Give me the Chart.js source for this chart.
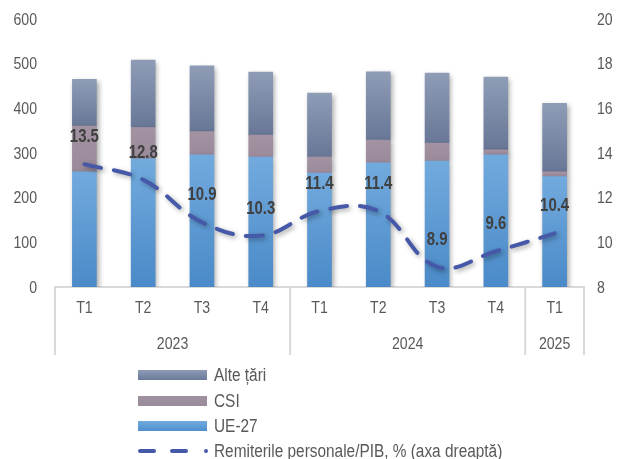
<!DOCTYPE html>
<html>
<head>
<meta charset="utf-8">
<script src="https://cdn.jsdelivr.net/npm/chart.js@4"></script>
<style>
  html, body { margin: 0; padding: 0; background: #fff; }
  #wrap { width: 622px; height: 459px; position: relative; }
</style>
</head>
<body>
<div id="wrap"><canvas id="remiteri-chart" width="622" height="459"></canvas></div>
<script>
// trimestre si ani
var quarters = ['T1', 'T2', 'T3', 'T4', 'T1', 'T2', 'T3', 'T4', 'T1'];
var years = ['2023', '2024', '2025'];
var yearSpans = [4, 4, 1];

// remiteri pe regiuni (stanga), ponderea in PIB (dreapta)
var ue27 = [258, 287, 296, 291, 255, 278, 282, 296, 247];
var csi = [102, 70, 52, 49, 36, 51, 40, 11, 11];
var alteTari = [105, 151, 147, 141, 143, 153, 157, 163, 153];
var remiteriPib = [13.5, 12.8, 10.9, 10.3, 11.4, 11.4, 8.9, 9.6, 10.4];

var leftTicks = [0, 100, 200, 300, 400, 500, 600];
var rightTicks = [8, 10, 12, 14, 16, 18, 20];

var FONT = '"Liberation Sans", Arial, sans-serif';
var TEXT_GREY = '#595959';
var LINE_BLUE = '#4659a8';
var NARROW = 0.83; // Arial comprimat pe orizontala, ca Arial Narrow

// text ingust: scalare orizontala in jurul punctului de ancorare
function narrowText(ctx, text, x, y, align, k) {
  ctx.save();
  ctx.translate(x, y);
  ctx.scale(k || NARROW, 1);
  ctx.textAlign = align || 'center';
  ctx.fillText(text, 0, 0);
  ctx.restore();
}

// gradient vertical pe fiecare segment al barei
function segmentGradient(stackBelow, top, bottom) {
  return function (context) {
    var chart = context.chart;
    var y = chart.scales.y;
    if (!y || context.dataIndex === undefined) return bottom;
    var i = context.dataIndex;
    var base = 0;
    stackBelow.forEach(function (arr) { base += arr[i]; });
    var own = context.dataset.data[i];
    var y0 = y.getPixelForValue(base + own);
    var y1 = y.getPixelForValue(base);
    if (!isFinite(y0) || !isFinite(y1) || y0 === y1) return bottom;
    var g = chart.ctx.createLinearGradient(0, y0, 0, y1);
    g.addColorStop(0, top);
    g.addColorStop(1, bottom);
    return g;
  };
}

// umbra sub bare si sub linie
var shadowPlugin = {
  id: 'shadow',
  beforeDatasetDraw: function (chart) {
    var ctx = chart.ctx;
    ctx.save();
    ctx.shadowColor = 'rgba(0,0,0,0.35)';
    ctx.shadowBlur = 5;
    ctx.shadowOffsetX = 2;
    ctx.shadowOffsetY = 2;
  },
  afterDatasetDraw: function (chart) {
    chart.ctx.restore();
  }
};

// etichetele axelor, desenate ingust
var axisLabelsPlugin = {
  id: 'axisLabels',
  afterDraw: function (chart) {
    var ctx = chart.ctx;
    var area = chart.chartArea;
    var sx = chart.scales.x, sy = chart.scales.y, sy1 = chart.scales.y1;
    ctx.save();
    ctx.font = '17px ' + FONT;
    ctx.fillStyle = TEXT_GREY;
    ctx.textBaseline = 'middle';
    sy.ticks.forEach(function (t) {
      narrowText(ctx, String(t.value), area.left - 18, sy.getPixelForValue(t.value) + 1, 'right');
    });
    sy1.ticks.forEach(function (t) {
      narrowText(ctx, String(t.value), area.right + 13, sy1.getPixelForValue(t.value) + 1, 'left');
    });
    quarters.forEach(function (q, i) {
      narrowText(ctx, q, sx.getPixelForValue(i), area.bottom + 21, 'center');
    });
    ctx.restore();
  }
};

// etichete de valoare pe linie, ani si separatoare pe axa X, legenda
var decorPlugin = {
  id: 'decor',
  afterDatasetsDraw: function (chart) {
    var ctx = chart.ctx;
    var meta = chart.getDatasetMeta(3);
    ctx.save();
    ctx.font = 'bold 18px ' + FONT;
    ctx.fillStyle = '#404040';
    ctx.textBaseline = 'middle';
    meta.data.forEach(function (pt, i) {
      narrowText(ctx, remiteriPib[i].toFixed(1), pt.x, pt.y - 27, 'center');
    });
    ctx.restore();
  },
  afterDraw: function (chart) {
    var ctx = chart.ctx;
    var x = chart.scales.x;
    var area = chart.chartArea;
    var half = (x.getPixelForValue(1) - x.getPixelForValue(0)) / 2;

    ctx.save();
    ctx.strokeStyle = '#d9d9d9';
    ctx.lineWidth = 2;
    ctx.font = '17px ' + FONT;
    ctx.fillStyle = TEXT_GREY;
    ctx.textBaseline = 'middle';

    var idx = 0;
    var edges = [x.getPixelForValue(0) - half];
    yearSpans.forEach(function (span, k) {
      var start = x.getPixelForValue(idx) - half;
      var end = x.getPixelForValue(idx + span - 1) + half;
      edges.push(end);
      narrowText(ctx, years[k], (start + end) / 2, area.bottom + 57, 'center');
      idx += span;
    });
    edges.forEach(function (ex) {
      ctx.beginPath();
      ctx.moveTo(ex, area.bottom);
      ctx.lineTo(ex, area.bottom + 68);
      ctx.stroke();
    });
    ctx.restore();

    // legenda
    var lx = 138, lw = 69, tx = 214, lk = 0.855;
    var rows = [375, 401, 426, 451];
    var items = [
      { label: 'Alte țări', top: '#8d9bb5', bottom: '#6b7a99' },
      { label: 'CSI', top: '#a091a1', bottom: '#9a8b9b' },
      { label: 'UE-27', top: '#72aadd', bottom: '#4f8fcc' }
    ];
    ctx.save();
    ctx.font = '18px ' + FONT;
    ctx.textBaseline = 'middle';
    items.forEach(function (it, k) {
      var g = ctx.createLinearGradient(0, rows[k] - 5, 0, rows[k] + 5);
      g.addColorStop(0, it.top);
      g.addColorStop(1, it.bottom);
      ctx.fillStyle = g;
      ctx.fillRect(lx, rows[k] - 5, lw, 10);
      ctx.fillStyle = TEXT_GREY;
      narrowText(ctx, it.label, tx, rows[k] + 1, 'left', lk);
    });
    // linie intrerupta: doua liniute si un punct
    ctx.strokeStyle = LINE_BLUE;
    ctx.lineWidth = 4;
    ctx.lineCap = 'round';
    [[140, 154], [172, 186], [206, 206]].forEach(function (seg) {
      ctx.beginPath();
      ctx.moveTo(seg[0], rows[3]);
      ctx.lineTo(seg[1] + 0.01, rows[3]);
      ctx.stroke();
    });
    ctx.fillStyle = TEXT_GREY;
    narrowText(ctx, 'Remiterile personale/PIB, % (axa dreaptă)', tx, rows[3] + 1, 'left', lk);
    ctx.restore();
  }
};

var ctx = document.getElementById('remiteri-chart').getContext('2d');
new Chart(ctx, {
  data: {
    labels: quarters,
    datasets: [
      {
        type: 'bar',
        label: 'UE-27',
        data: ue27,
        yAxisID: 'y',
        backgroundColor: segmentGradient([], '#72aadd', '#4a8ac8'),
        barThickness: 24,
        order: 2
      },
      {
        type: 'bar',
        label: 'CSI',
        data: csi,
        yAxisID: 'y',
        backgroundColor: segmentGradient([ue27], '#a292a2', '#9a8a9a'),
        barThickness: 24,
        order: 2
      },
      {
        type: 'bar',
        label: 'Alte țări',
        data: alteTari,
        yAxisID: 'y',
        backgroundColor: segmentGradient([ue27, csi], '#8e9cb6', '#687796'),
        barThickness: 24,
        order: 2
      },
      {
        type: 'line',
        label: 'Remiterile personale/PIB, % (axa dreaptă)',
        data: remiteriPib,
        yAxisID: 'y1',
        borderColor: LINE_BLUE,
        borderWidth: 4,
        borderDash: [17, 13],
        borderCapStyle: 'round',
        tension: 0.4,
        pointRadius: 0,
        fill: false,
        order: 1
      }
    ]
  },
  options: {
    responsive: false,
    animation: false,
    layout: { padding: { top: 19, left: 0, right: 0, bottom: 0 } },
    plugins: {
      legend: { display: false },
      tooltip: { enabled: false }
    },
    scales: {
      x: {
        stacked: true,
        grid: { display: false, drawTicks: false },
        border: { display: true, color: '#d9d9d9', width: 2 },
        ticks: { display: false },
        afterFit: function (scale) { scale.height = 459 - 19 - 268; }
      },
      y: {
        stacked: true,
        position: 'left',
        min: 0,
        max: 600,
        afterBuildTicks: function (scale) {
          scale.ticks = leftTicks.map(function (v) { return { value: v }; });
        },
        grid: { display: false, drawTicks: false },
        border: { display: false },
        ticks: { display: false },
        afterFit: function (scale) { scale.width = 55; }
      },
      y1: {
        position: 'right',
        min: 8,
        max: 20,
        afterBuildTicks: function (scale) {
          scale.ticks = rightTicks.map(function (v) { return { value: v }; });
        },
        grid: { display: false, drawTicks: false },
        border: { display: false },
        ticks: { display: false },
        afterFit: function (scale) { scale.width = 38; }
      }
    }
  },
  plugins: [shadowPlugin, axisLabelsPlugin, decorPlugin]
});
</script>
</body>
</html>
